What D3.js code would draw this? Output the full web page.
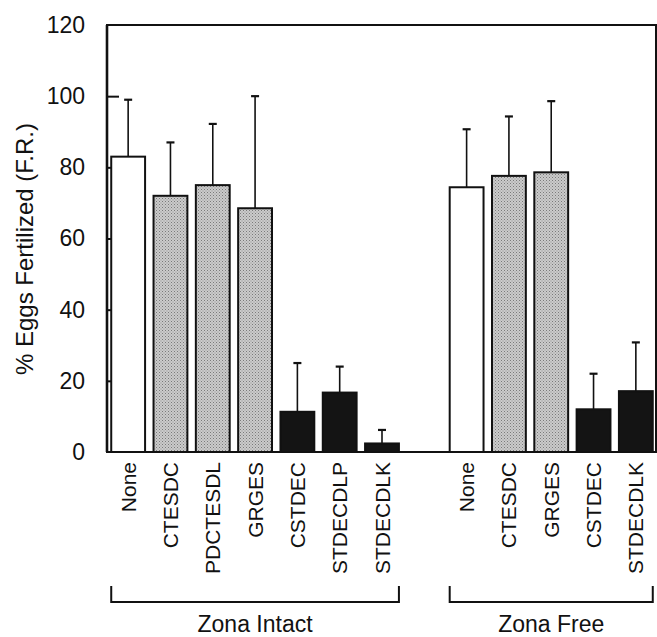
<!DOCTYPE html>
<html>
<head>
<meta charset="utf-8">
<script src="https://cdn.jsdelivr.net/npm/d3@7"></script>
<style>
  body { margin: 0; background: #fff; }
  text { font-family: "Liberation Sans", Arial, Helvetica, sans-serif; fill: #111; }
</style>
</head>
<body>
<div id="vis"></div>
<script>
// data
const intactLabels = ["None", "CTESDC", "PDCTESDL", "GRGES", "CSTDEC", "STDECDLP", "STDECDLK"];
const intactKinds  = ["control", "peptideA", "peptideA", "peptideA", "peptideB", "peptideB", "peptideB"];
const intactMeans  = [83, 72, 75, 68.5, 11.3, 16.7, 2.4];
const intactSD     = [16, 15, 17.2, 31.5, 13.7, 7.3, 3.8];

const freeLabels = ["None", "CTESDC", "GRGES", "CSTDEC", "STDECDLK"];
const freeKinds  = ["control", "peptideA", "peptideA", "peptideB", "peptideB"];
const freeMeans  = [74.4, 77.6, 78.6, 12, 17.1];
const freeSD     = [16.3, 16.7, 20, 10, 13.7];

const groupNames = ["Zona Intact", "Zona Free"];
const yTicks = [0, 20, 40, 60, 80, 100, 120];
const yTitle = "% Eggs Fertilized (F.R.)";

// set constants
const FRAME_WIDTH = 657;
const FRAME_HEIGHT = 637;
const PLOT = {left: 107, right: 656, top: 25, bottom: 452};

const FRAME = d3.select("#vis")
  .append("svg")
    .attr("width", FRAME_WIDTH)
    .attr("height", FRAME_HEIGHT);

// stipple pattern for the grey bars
const defs = FRAME.append("defs");
const pat = defs.append("pattern")
  .attr("id", "stipple")
  .attr("patternUnits", "userSpaceOnUse")
  .attr("width", 3).attr("height", 3);
pat.append("rect").attr("width", 3).attr("height", 3).attr("fill", "#cbcbcb");
pat.append("rect").attr("x", 0).attr("y", 0).attr("width", 1).attr("height", 1).attr("fill", "#7a7a7a");
pat.append("rect").attr("x", 1.5).attr("y", 1.5).attr("width", 1).attr("height", 1).attr("fill", "#929292");

const fillFor = {control: "#ffffff", peptideA: "url(#stipple)", peptideB: "#141414"};

// build rows: intact, one empty slot, then free
const rows = [];
intactLabels.forEach((l, i) => rows.push({key: "i" + i, group: 0, label: l, kind: intactKinds[i], mean: intactMeans[i], sd: intactSD[i]}));
freeLabels.forEach((l, i) => rows.push({key: "f" + i, group: 1, label: l, kind: freeKinds[i], mean: freeMeans[i], sd: freeSD[i]}));
const slots = intactLabels.map((d, i) => "i" + i).concat(["gap"], freeLabels.map((d, i) => "f" + i));

const X_SCALE = d3.scaleBand()
  .domain(slots)
  .range([PLOT.left, PLOT.right + 1])
  .paddingInner(0.2)
  .paddingOuter(0.1);

const Y_SCALE = d3.scaleLinear()
  .domain([0, 120])
  .range([PLOT.bottom, PLOT.top]);

// y axis with inward ticks
const yAxis = FRAME.append("g")
  .attr("transform", "translate(" + PLOT.left + ",0)")
  .call(d3.axisLeft(Y_SCALE).tickValues(yTicks).tickSizeInner(-12).tickSizeOuter(0).tickPadding(22));
yAxis.select(".domain").remove();
yAxis.selectAll(".tick line").attr("stroke", "#111").attr("stroke-width", 2)
  .filter(d => d === 0 || d === 120).remove();
yAxis.selectAll(".tick text")
  .attr("font-size", "23px")
  .attr("font-family", "Liberation Sans, Arial, sans-serif")
  .attr("fill", "#111");

// frame box
FRAME.append("rect")
  .attr("x", PLOT.left).attr("y", PLOT.top)
  .attr("width", PLOT.right - PLOT.left).attr("height", PLOT.bottom - PLOT.top)
  .attr("fill", "none").attr("stroke", "#111").attr("stroke-width", 2);
FRAME.append("line")
  .attr("x1", PLOT.left).attr("x2", PLOT.left)
  .attr("y1", PLOT.top).attr("y2", PLOT.bottom)
  .attr("stroke", "#111").attr("stroke-width", 2.6);

// error bars (upper only)
const err = FRAME.selectAll(".err")
  .data(rows)
  .enter()
  .append("g")
    .attr("class", "err");
err.append("line")
  .attr("x1", d => X_SCALE(d.key) + X_SCALE.bandwidth() / 2)
  .attr("x2", d => X_SCALE(d.key) + X_SCALE.bandwidth() / 2)
  .attr("y1", d => Y_SCALE(d.mean))
  .attr("y2", d => Y_SCALE(d.mean + d.sd))
  .attr("stroke", "#111").attr("stroke-width", 1.6);
err.append("line")
  .attr("x1", d => X_SCALE(d.key) + X_SCALE.bandwidth() / 2 - 4)
  .attr("x2", d => X_SCALE(d.key) + X_SCALE.bandwidth() / 2 + 4)
  .attr("y1", d => Y_SCALE(d.mean + d.sd))
  .attr("y2", d => Y_SCALE(d.mean + d.sd))
  .attr("stroke", "#111").attr("stroke-width", 2.2);

// bars
FRAME.selectAll(".bar")
  .data(rows)
  .enter()
  .append("rect")
    .attr("class", "bar")
    .attr("x", d => X_SCALE(d.key))
    .attr("y", d => Y_SCALE(d.mean))
    .attr("width", X_SCALE.bandwidth())
    .attr("height", d => Y_SCALE(0) - Y_SCALE(d.mean))
    .attr("fill", d => fillFor[d.kind])
    .attr("stroke", "#111")
    .attr("stroke-width", 2);

// category labels, rotated
FRAME.selectAll(".xlab")
  .data(rows)
  .enter()
  .append("text")
    .attr("class", "xlab")
    .attr("transform", d => "translate(" + (X_SCALE(d.key) + X_SCALE.bandwidth() / 2 + 7.5) + "," + (PLOT.bottom + 10) + ") rotate(-90)")
    .attr("text-anchor", "end")
    .attr("font-size", "21px")
    .text(d => d.label);

// group brackets
const groupSpans = groupNames.map((name, g) => {
  const keys = rows.filter(r => r.group === g).map(r => r.key);
  const x0 = X_SCALE(keys[0]);
  const x1 = X_SCALE(keys[keys.length - 1]) + X_SCALE.bandwidth();
  return {name: name, x0: x0, x1: Math.min(x1, PLOT.right)};
});
const BR_TOP = 586, BR_BOT = 602;
FRAME.selectAll(".bracket")
  .data(groupSpans)
  .enter()
  .append("path")
    .attr("class", "bracket")
    .attr("d", d => "M" + d.x0 + "," + BR_TOP + "V" + BR_BOT + "H" + d.x1 + "V" + BR_TOP)
    .attr("fill", "none").attr("stroke", "#111").attr("stroke-width", 2);
FRAME.selectAll(".glab")
  .data(groupSpans)
  .enter()
  .append("text")
    .attr("class", "glab")
    .attr("x", d => (d.x0 + d.x1) / 2)
    .attr("y", 632)
    .attr("text-anchor", "middle")
    .attr("font-size", "23px")
    .text(d => d.name);

// y title
FRAME.append("text")
  .attr("transform", "translate(33," + 249 + ") rotate(-90)")
  .attr("text-anchor", "middle")
  .attr("font-size", "24px")
  .text(yTitle);
</script>
</body>
</html>
